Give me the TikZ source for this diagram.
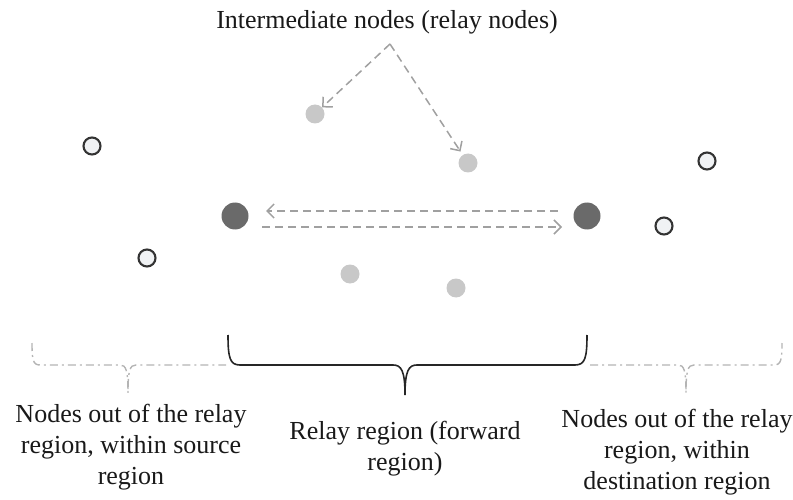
\documentclass[tikz,border=0pt]{standalone}
\usepackage{fontspec}
\setmainfont{Liberation Serif}
\usetikzlibrary{arrows.meta}
\definecolor{relaygray}{HTML}{C8C8C8}
\definecolor{endgray}{HTML}{6A6A6A}
\definecolor{arrgray}{HTML}{A0A0A0}
\definecolor{bracegray}{HTML}{B4B4B4}
\definecolor{outfill}{HTML}{F0F2F4}
\tikzset{
  relay/.style={circle,fill=relaygray,minimum size=19pt,inner sep=0pt},
  endnode/.style={circle,fill=endgray,minimum size=27pt,inner sep=0pt},
  outnode/.style={circle,draw=black!80,fill=outfill,line width=2.1pt,minimum size=17pt,inner sep=0pt},
  darr/.style={draw=arrgray,line width=1.5pt,dash pattern=on 8pt off 5pt,-{Straight Barb[length=7pt,width=14pt]}},
  lbl/.style={font=\fontsize{26}{31}\selectfont,align=center,text=black!90},
  solidbrace/.style={draw=black!85,line width=1.6pt},
  dotbrace/.style={draw=bracegray,line width=1.4pt,dash pattern=on 8pt off 4pt on 2pt off 4pt},
}
\begin{document}
\begin{tikzpicture}[x=1pt,y=-1pt]
\useasboundingbox (0,0) rectangle (793,500);
% title
\node[lbl] (title) at (387,22) {Intermediate nodes (relay nodes)};
\coordinate (apex) at (390,44);
% nodes
\node[relay] (r1) at (315,114) {};
\node[relay] (r2) at (468,163) {};
\node[relay] (r3) at (350,274) {};
\node[relay] (r4) at (456,288) {};
\node[endnode] (s) at (235,216) {};
\node[endnode] (d) at (587,216) {};
\node[outnode] (o1) at (92,146) {};
\node[outnode] (o2) at (147,258) {};
\node[outnode] (o3) at (707,161) {};
\node[outnode] (o4) at (664,226) {};
% arrows
\draw[darr] (apex) -- (r1);
\draw[darr,shorten >=4pt] (apex) -- (r2);
\coordinate (t1) at (558,211);
\coordinate (t2) at (266,211);
\coordinate (b1) at (262,227);
\coordinate (b2) at (562,227);
\draw[darr] (t1) -- (t2);
\draw[darr] (b1) -- (b2);
% solid brace
\draw[solidbrace] (228,335) .. controls (228,358) and (230,365) .. (240,365) -- (393,365)
  .. controls (401,365) and (405,370) .. (405,395)
  .. controls (405,370) and (409,365) .. (417,365) -- (575,365)
  .. controls (585,365) and (587,358) .. (587,335);
% dash-dot braces
\draw[dotbrace] (32,343) .. controls (32,360) and (33,365) .. (40,365) -- (120,365)
  .. controls (126,365) and (128,370) .. (128,393)
  .. controls (128,370) and (130,365) .. (136,365) -- (226,365);
\draw[dotbrace] (590,365) -- (678,365)
  .. controls (684,365) and (686,370) .. (686,393)
  .. controls (686,370) and (688,365) .. (694,365) -- (774,365)
  .. controls (781,365) and (782,360) .. (782,343);
% labels
\node[lbl] (lsrc) at (131,447) {Nodes out of the relay\\region, within source\\region};
\node[lbl] (lrel) at (405,449) {Relay region (forward\\region)};
\node[lbl] (ldst) at (677,452) {Nodes out of the relay\\region, within\\destination region};
\end{tikzpicture}
\end{document}
